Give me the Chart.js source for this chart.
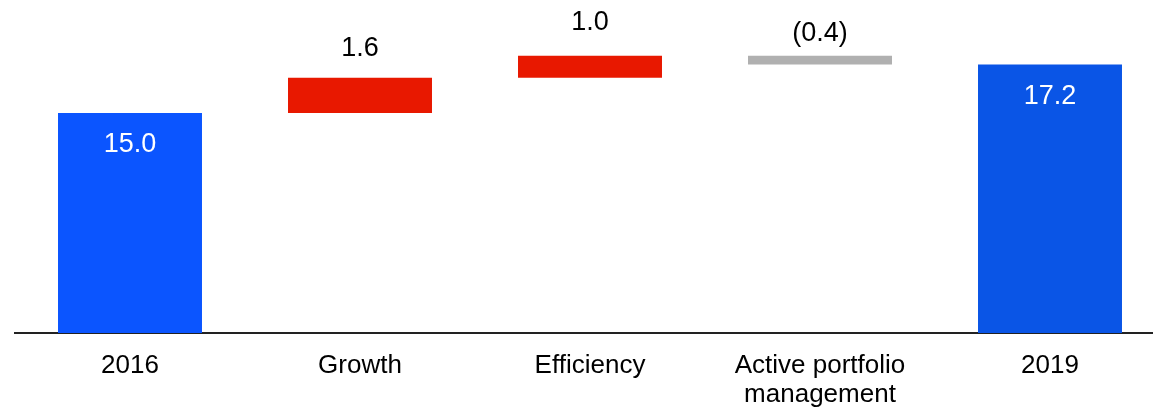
<!DOCTYPE html>
<html>
<head>
<meta charset="utf-8">
<script src="https://cdn.jsdelivr.net/npm/chart.js@4.4.1/dist/chart.umd.min.js"></script>
<style>
  html, body { margin: 0; padding: 0; background: #ffffff; overflow: hidden; }
  #wrap { position: relative; width: 1165px; height: 431px; }
</style>
</head>
<body>
<div id="wrap"><canvas id="c"></canvas></div>
<script>
// ---- data ----
const categories = ["2016", "Growth", "Efficiency", ["Active portfolio", "management"], "2019"];
const changes = [15.0, 1.6, 1.0, -0.4, 17.2];
const isTotal = [true, false, false, false, true];
const yRange = [5, 20];

// ---- styles ----
const barColors = ["#0B55FF", "#E81800", "#E81800", "#B0B0B0", "#0A55E6"];
const labelColors = ["#ffffff", "#000000", "#000000", "#000000", "#ffffff"];
const labelOffsets = [32, -29, -33, -22, 32];
const FONT = "'Liberation Sans', Arial, Helvetica, sans-serif";

// build floating ranges
let running = 0;
const ranges = changes.map((v, i) => {
  if (isTotal[i]) { running = v; return [yRange[0], v]; }
  const start = running; running = running + v; return [start, running];
});
const fmt = v => v < 0 ? "(" + Math.abs(v).toFixed(1) + ")" : v.toFixed(1);

const labelPlugin = {
  id: 'wfLabels',
  afterDatasetsDraw(chart) {
    const ctx = chart.ctx;
    const meta = chart.getDatasetMeta(0);
    ctx.save();
    ctx.font = "27px " + FONT;
    ctx.textAlign = "center";
    ctx.textBaseline = "middle";
    meta.data.forEach((el, i) => {
      const top = Math.min(el.y, el.base);
      ctx.fillStyle = labelColors[i];
      ctx.fillText(fmt(changes[i]), el.x, top + labelOffsets[i]);
    });
    ctx.restore();
  }
};

new Chart(document.getElementById('c'), {
  type: 'bar',
  data: {
    labels: categories,
    datasets: [{
      data: ranges,
      backgroundColor: barColors,
      borderWidth: 0,
      categoryPercentage: 1.0,
      barPercentage: 0.626
    }]
  },
  options: {
    responsive: true,
    maintainAspectRatio: false,
    animation: false,
    layout: { padding: { left: 15, right: 0, top: 3, bottom: 4 } },
    plugins: { legend: { display: false }, tooltip: { enabled: false } },
    scales: {
      x: {
        grid: { display: false, drawTicks: false },
        border: { display: true, color: '#222222', width: 2 },
        ticks: { color: '#000000', font: { family: FONT, size: 26, lineHeight: '29px' }, padding: 18, maxRotation: 0, autoSkip: false }
      },
      y: {
        display: false,
        min: yRange[0],
        max: yRange[1]
      }
    }
  },
  plugins: [labelPlugin]
});
</script>
</body>
</html>
